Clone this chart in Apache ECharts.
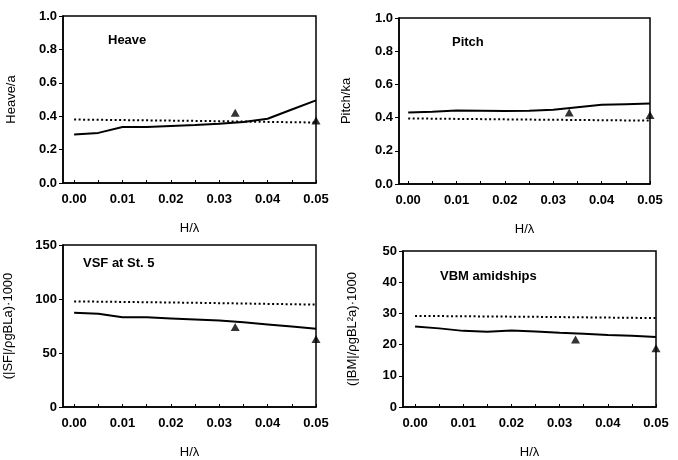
<!DOCTYPE html>
<html><head><meta charset="utf-8">
<script src="https://cdn.jsdelivr.net/npm/echarts@6/dist/echarts.min.js"></script>
<style>html,body{margin:0;padding:0;background:#fff}#c{width:678px;height:460px}</style>
</head><body><div id="c"></div>
<script>
// H/lambda sample points for the solid (calculated) curves
var hl = [0, 0.005, 0.01, 0.015, 0.02, 0.025, 0.03, 0.035, 0.04, 0.045, 0.05];
// dotted (linear theory) curves
var hlDot = [0, 0.025, 0.05];
// experiment triangles
var hlExp = [0.0333, 0.05];

var heaveSolid = [0.29, 0.30, 0.335, 0.335, 0.342, 0.348, 0.355, 0.365, 0.385, 0.44, 0.495];
var heaveDot = [0.38, 0.372, 0.362];
var heaveExp = [0.42, 0.375];

var pitchSolid = [0.43, 0.435, 0.443, 0.442, 0.44, 0.441, 0.447, 0.462, 0.477, 0.481, 0.485];
var pitchDot = [0.395, 0.388, 0.382];
var pitchExp = [0.43, 0.416];

var vsfSolid = [87.2, 86.3, 83, 83, 82, 81, 80, 78.5, 76.5, 74.5, 72.4];
var vsfDot = [97.8, 96.5, 94.8];
var vsfExp = [74, 63];

var vbmSolid = [25.8, 25.2, 24.4, 24.1, 24.5, 24.2, 23.8, 23.5, 23.1, 22.8, 22.4];
var vbmDot = [29.2, 28.9, 28.5];
var vbmExp = [21.6, 18.8];

var xTickLabels = [0, 0.01, 0.02, 0.03, 0.04, 0.05];
var xMinorTicks = [0, 0.005, 0.01, 0.015, 0.02, 0.025, 0.03, 0.035, 0.04, 0.045, 0.05];

var panelTitles = ['Heave', 'Pitch', 'VSF at St. 5', 'VBM amidships'];
var yNames = ['Heave/a', 'Pitch/ka', '(|SF|/\u03c1gBLa)\u00b71000', '(|BM|/\u03c1gBL\u00b2a)\u00b71000'];
var xName = 'H/\u03bb';
var yRanges = [[0, 1, 0.2, 1], [0, 1, 0.2, 1], [0, 150, 50, 0], [0, 50, 10, 0]];

var FF = '"Liberation Sans", Arial, sans-serif';
var grids = [
  {left: 63, top: 16, width: 253, height: 167, xmin: -0.0023, nameGapY: 45},
  {left: 399, top: 18, width: 251, height: 166, xmin: -0.0019, nameGapY: 46},
  {left: 63, top: 245, width: 253, height: 166, xmin: -0.0023, nameGapY: 48},
  {left: 403, top: 251, width: 253, height: 167, xmin: -0.0025, nameGapY: 44}
];
var titlePos = [[108, 34], [452, 36], [83, 257], [440, 270]];

function pairs(xs, ys) { return xs.map(function (x, i) { return [x, ys[i]]; }); }
var solids = [heaveSolid, pitchSolid, vsfSolid, vbmSolid];
var dots = [heaveDot, pitchDot, vsfDot, vbmDot];
var exps = [heaveExp, pitchExp, vsfExp, vbmExp];

var option = {
  backgroundColor: '#fff',
  animation: false,
  title: panelTitles.map(function (t, i) {
    return {text: t, left: titlePos[i][0], top: titlePos[i][1], padding: 0,
      textStyle: {fontFamily: FF, fontSize: 13, fontWeight: 'bold', color: '#000'}};
  }),
  grid: grids.map(function (g) {
    return {left: g.left, top: g.top, width: g.width, height: g.height, show: true,
      borderColor: '#000', borderWidth: 1.5, backgroundColor: 'transparent'};
  }),
  xAxis: grids.map(function (g, i) {
    return {type: 'value', gridIndex: i, min: g.xmin, max: 0.05,
      name: xName, nameLocation: 'middle', nameGap: 39,
      nameTextStyle: {fontFamily: FF, fontSize: 13, color: '#000'},
      axisLine: {show: true, onZero: false, lineStyle: {color: '#000', width: 1.5}},
      axisTick: {show: true, inside: true, length: 3, customValues: xMinorTicks, lineStyle: {color: '#000'}},
      axisLabel: {customValues: xTickLabels, margin: 10, fontFamily: FF, fontSize: 13, fontWeight: 'bold', color: '#000',
        formatter: function (v) { return v.toFixed(2); }},
      splitLine: {show: false}};
  }),
  yAxis: grids.map(function (g, i) {
    var r = yRanges[i];
    return {type: 'value', gridIndex: i, min: r[0], max: r[1], interval: r[2],
      name: yNames[i], nameLocation: 'middle', nameGap: g.nameGapY,
      nameTextStyle: {fontFamily: FF, fontSize: 13, color: '#000'},
      axisLine: {show: true, onZero: false, lineStyle: {color: '#000', width: 1.5}},
      axisTick: {show: true, inside: false, length: 4, lineStyle: {color: '#000'}},
      axisLabel: {margin: 6, fontFamily: FF, fontSize: 13, fontWeight: 'bold', color: '#000',
        formatter: function (v) { return r[3] ? v.toFixed(1) : String(v); }},
      splitLine: {show: false}};
  }),
  series: []
};
for (var i = 0; i < 4; i++) {
  option.series.push({type: 'line', xAxisIndex: i, yAxisIndex: i, data: pairs(hl, solids[i]),
    symbol: 'none', lineStyle: {color: '#000', width: 2}, smooth: false, z: 3});
  option.series.push({type: 'line', xAxisIndex: i, yAxisIndex: i, data: pairs(hlDot, dots[i]),
    symbol: 'none', lineStyle: {color: '#000', width: 2, type: [2, 2.5]}, z: 2});
  option.series.push({type: 'scatter', xAxisIndex: i, yAxisIndex: i, data: pairs(hlExp, exps[i]),
    symbol: 'triangle', symbolSize: [9, 8], itemStyle: {color: '#000'}, z: 4});
}
var chart = echarts.init(document.getElementById('c'), null, {renderer: 'canvas'});
chart.setOption(option);
</script>
</body></html>
